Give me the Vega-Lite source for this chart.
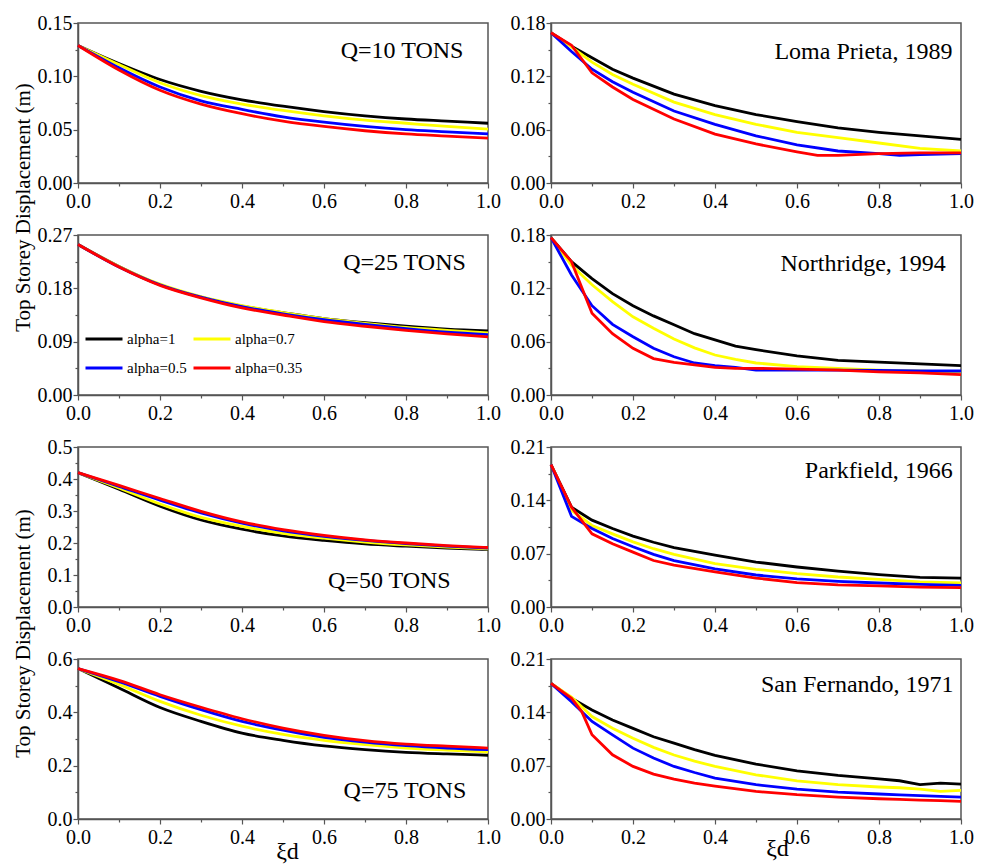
{
"$schema": "https://vega.github.io/schema/vega-lite/v6.json",
"padding": {"left": 11, "top": 12, "right": 5, "bottom": 5},
"config": {
  "font": "Liberation Serif",
  "view": {"stroke": "#555555", "strokeWidth": 1.5},
  "axis": {"labelFont": "Liberation Serif", "labelFontSize": 20, "labelColor": "#000000", "domainColor": "#555555", "domainWidth": 1.5, "tickColor": "#555555", "tickWidth": 1.2, "grid": false, "titleFont": "Liberation Serif", "titleFontWeight": "normal", "titleColor": "#000000", "labelOverlap": false, "labelFlush": false, "labelBound": false},
  "axisX": {"labelPadding": 3},
  "axisY": {"labelPadding": 1},
  "line": {"strokeWidth": 2.8}
},
"datasets": {
 "d": [
  {"p":"q10","a":"alpha=1","x":0,"y":0.129},{"p":"q10","a":"alpha=1","x":0.1,"y":0.112},{"p":"q10","a":"alpha=1","x":0.2,"y":0.097},{"p":"q10","a":"alpha=1","x":0.3,"y":0.086},{"p":"q10","a":"alpha=1","x":0.4,"y":0.078},{"p":"q10","a":"alpha=1","x":0.5,"y":0.072},{"p":"q10","a":"alpha=1","x":0.6,"y":0.067},{"p":"q10","a":"alpha=1","x":0.7,"y":0.063},{"p":"q10","a":"alpha=1","x":0.8,"y":0.060},{"p":"q10","a":"alpha=1","x":0.9,"y":0.058},{"p":"q10","a":"alpha=1","x":1,"y":0.056},
  {"p":"q10","a":"alpha=0.7","x":0,"y":0.129},{"p":"q10","a":"alpha=0.7","x":0.1,"y":0.111},{"p":"q10","a":"alpha=0.7","x":0.2,"y":0.094},{"p":"q10","a":"alpha=0.7","x":0.3,"y":0.082},{"p":"q10","a":"alpha=0.7","x":0.4,"y":0.074},{"p":"q10","a":"alpha=0.7","x":0.5,"y":0.068},{"p":"q10","a":"alpha=0.7","x":0.6,"y":0.063},{"p":"q10","a":"alpha=0.7","x":0.7,"y":0.059},{"p":"q10","a":"alpha=0.7","x":0.8,"y":0.056},{"p":"q10","a":"alpha=0.7","x":0.9,"y":0.053},{"p":"q10","a":"alpha=0.7","x":1,"y":0.0505},
  {"p":"q10","a":"alpha=0.5","x":0,"y":0.129},{"p":"q10","a":"alpha=0.5","x":0.1,"y":0.108},{"p":"q10","a":"alpha=0.5","x":0.2,"y":0.090},{"p":"q10","a":"alpha=0.5","x":0.3,"y":0.077},{"p":"q10","a":"alpha=0.5","x":0.4,"y":0.069},{"p":"q10","a":"alpha=0.5","x":0.5,"y":0.062},{"p":"q10","a":"alpha=0.5","x":0.6,"y":0.057},{"p":"q10","a":"alpha=0.5","x":0.7,"y":0.053},{"p":"q10","a":"alpha=0.5","x":0.8,"y":0.050},{"p":"q10","a":"alpha=0.5","x":0.9,"y":0.048},{"p":"q10","a":"alpha=0.5","x":1,"y":0.046},
  {"p":"q10","a":"alpha=0.35","x":0,"y":0.129},{"p":"q10","a":"alpha=0.35","x":0.1,"y":0.106},{"p":"q10","a":"alpha=0.35","x":0.2,"y":0.087},{"p":"q10","a":"alpha=0.35","x":0.3,"y":0.074},{"p":"q10","a":"alpha=0.35","x":0.4,"y":0.065},{"p":"q10","a":"alpha=0.35","x":0.5,"y":0.058},{"p":"q10","a":"alpha=0.35","x":0.6,"y":0.053},{"p":"q10","a":"alpha=0.35","x":0.7,"y":0.049},{"p":"q10","a":"alpha=0.35","x":0.8,"y":0.046},{"p":"q10","a":"alpha=0.35","x":0.9,"y":0.044},{"p":"q10","a":"alpha=0.35","x":1,"y":0.042},

  {"p":"lp","a":"alpha=1","x":0,"y":0.169},{"p":"lp","a":"alpha=1","x":0.05,"y":0.154},{"p":"lp","a":"alpha=1","x":0.1,"y":0.141},{"p":"lp","a":"alpha=1","x":0.15,"y":0.128},{"p":"lp","a":"alpha=1","x":0.2,"y":0.118},{"p":"lp","a":"alpha=1","x":0.3,"y":0.1},{"p":"lp","a":"alpha=1","x":0.4,"y":0.087},{"p":"lp","a":"alpha=1","x":0.5,"y":0.077},{"p":"lp","a":"alpha=1","x":0.6,"y":0.069},{"p":"lp","a":"alpha=1","x":0.7,"y":0.062},{"p":"lp","a":"alpha=1","x":0.8,"y":0.057},{"p":"lp","a":"alpha=1","x":0.9,"y":0.053},{"p":"lp","a":"alpha=1","x":1,"y":0.049},
  {"p":"lp","a":"alpha=0.7","x":0,"y":0.169},{"p":"lp","a":"alpha=0.7","x":0.05,"y":0.153},{"p":"lp","a":"alpha=0.7","x":0.1,"y":0.136},{"p":"lp","a":"alpha=0.7","x":0.15,"y":0.122},{"p":"lp","a":"alpha=0.7","x":0.2,"y":0.111},{"p":"lp","a":"alpha=0.7","x":0.3,"y":0.091},{"p":"lp","a":"alpha=0.7","x":0.4,"y":0.077},{"p":"lp","a":"alpha=0.7","x":0.5,"y":0.066},{"p":"lp","a":"alpha=0.7","x":0.6,"y":0.057},{"p":"lp","a":"alpha=0.7","x":0.7,"y":0.051},{"p":"lp","a":"alpha=0.7","x":0.8,"y":0.045},{"p":"lp","a":"alpha=0.7","x":0.9,"y":0.039},{"p":"lp","a":"alpha=0.7","x":1,"y":0.036},
  {"p":"lp","a":"alpha=0.5","x":0,"y":0.169},{"p":"lp","a":"alpha=0.5","x":0.05,"y":0.148},{"p":"lp","a":"alpha=0.5","x":0.1,"y":0.128},{"p":"lp","a":"alpha=0.5","x":0.15,"y":0.114},{"p":"lp","a":"alpha=0.5","x":0.2,"y":0.102},{"p":"lp","a":"alpha=0.5","x":0.3,"y":0.081},{"p":"lp","a":"alpha=0.5","x":0.4,"y":0.066},{"p":"lp","a":"alpha=0.5","x":0.5,"y":0.053},{"p":"lp","a":"alpha=0.5","x":0.6,"y":0.043},{"p":"lp","a":"alpha=0.5","x":0.7,"y":0.036},{"p":"lp","a":"alpha=0.5","x":0.8,"y":0.033},{"p":"lp","a":"alpha=0.5","x":0.85,"y":0.031},{"p":"lp","a":"alpha=0.5","x":0.9,"y":0.032},{"p":"lp","a":"alpha=0.5","x":1,"y":0.033},
  {"p":"lp","a":"alpha=0.35","x":0,"y":0.169},{"p":"lp","a":"alpha=0.35","x":0.05,"y":0.155},{"p":"lp","a":"alpha=0.35","x":0.1,"y":0.124},{"p":"lp","a":"alpha=0.35","x":0.15,"y":0.108},{"p":"lp","a":"alpha=0.35","x":0.2,"y":0.094},{"p":"lp","a":"alpha=0.35","x":0.3,"y":0.072},{"p":"lp","a":"alpha=0.35","x":0.4,"y":0.055},{"p":"lp","a":"alpha=0.35","x":0.5,"y":0.044},{"p":"lp","a":"alpha=0.35","x":0.6,"y":0.035},{"p":"lp","a":"alpha=0.35","x":0.65,"y":0.031},{"p":"lp","a":"alpha=0.35","x":0.7,"y":0.031},{"p":"lp","a":"alpha=0.35","x":0.8,"y":0.033},{"p":"lp","a":"alpha=0.35","x":0.9,"y":0.034},{"p":"lp","a":"alpha=0.35","x":1,"y":0.034},

  {"p":"q25","a":"alpha=1","x":0,"y":0.254},{"p":"q25","a":"alpha=1","x":0.1,"y":0.217},{"p":"q25","a":"alpha=1","x":0.2,"y":0.186},{"p":"q25","a":"alpha=1","x":0.3,"y":0.165},{"p":"q25","a":"alpha=1","x":0.4,"y":0.150},{"p":"q25","a":"alpha=1","x":0.5,"y":0.139},{"p":"q25","a":"alpha=1","x":0.6,"y":0.129},{"p":"q25","a":"alpha=1","x":0.7,"y":0.122},{"p":"q25","a":"alpha=1","x":0.8,"y":0.116},{"p":"q25","a":"alpha=1","x":0.9,"y":0.111},{"p":"q25","a":"alpha=1","x":1,"y":0.108},
  {"p":"q25","a":"alpha=0.7","x":0,"y":0.254},{"p":"q25","a":"alpha=0.7","x":0.1,"y":0.217},{"p":"q25","a":"alpha=0.7","x":0.2,"y":0.187},{"p":"q25","a":"alpha=0.7","x":0.3,"y":0.166},{"p":"q25","a":"alpha=0.7","x":0.4,"y":0.151},{"p":"q25","a":"alpha=0.7","x":0.5,"y":0.139},{"p":"q25","a":"alpha=0.7","x":0.6,"y":0.129},{"p":"q25","a":"alpha=0.7","x":0.7,"y":0.121},{"p":"q25","a":"alpha=0.7","x":0.8,"y":0.114},{"p":"q25","a":"alpha=0.7","x":0.9,"y":0.109},{"p":"q25","a":"alpha=0.7","x":1,"y":0.105},
  {"p":"q25","a":"alpha=0.5","x":0,"y":0.254},{"p":"q25","a":"alpha=0.5","x":0.1,"y":0.216},{"p":"q25","a":"alpha=0.5","x":0.2,"y":0.186},{"p":"q25","a":"alpha=0.5","x":0.3,"y":0.165},{"p":"q25","a":"alpha=0.5","x":0.4,"y":0.149},{"p":"q25","a":"alpha=0.5","x":0.5,"y":0.137},{"p":"q25","a":"alpha=0.5","x":0.6,"y":0.127},{"p":"q25","a":"alpha=0.5","x":0.7,"y":0.119},{"p":"q25","a":"alpha=0.5","x":0.8,"y":0.112},{"p":"q25","a":"alpha=0.5","x":0.9,"y":0.106},{"p":"q25","a":"alpha=0.5","x":1,"y":0.102},
  {"p":"q25","a":"alpha=0.35","x":0,"y":0.254},{"p":"q25","a":"alpha=0.35","x":0.1,"y":0.216},{"p":"q25","a":"alpha=0.35","x":0.2,"y":0.185},{"p":"q25","a":"alpha=0.35","x":0.3,"y":0.164},{"p":"q25","a":"alpha=0.35","x":0.4,"y":0.147},{"p":"q25","a":"alpha=0.35","x":0.5,"y":0.135},{"p":"q25","a":"alpha=0.35","x":0.6,"y":0.124},{"p":"q25","a":"alpha=0.35","x":0.7,"y":0.116},{"p":"q25","a":"alpha=0.35","x":0.8,"y":0.109},{"p":"q25","a":"alpha=0.35","x":0.9,"y":0.103},{"p":"q25","a":"alpha=0.35","x":1,"y":0.098},

  {"p":"nr","a":"alpha=1","x":0,"y":0.177},{"p":"nr","a":"alpha=1","x":0.05,"y":0.150},{"p":"nr","a":"alpha=1","x":0.1,"y":0.131},{"p":"nr","a":"alpha=1","x":0.15,"y":0.114},{"p":"nr","a":"alpha=1","x":0.2,"y":0.1005},{"p":"nr","a":"alpha=1","x":0.25,"y":0.089},{"p":"nr","a":"alpha=1","x":0.3,"y":0.079},{"p":"nr","a":"alpha=1","x":0.35,"y":0.069},{"p":"nr","a":"alpha=1","x":0.4,"y":0.062},{"p":"nr","a":"alpha=1","x":0.45,"y":0.055},{"p":"nr","a":"alpha=1","x":0.5,"y":0.051},{"p":"nr","a":"alpha=1","x":0.6,"y":0.044},{"p":"nr","a":"alpha=1","x":0.7,"y":0.039},{"p":"nr","a":"alpha=1","x":0.8,"y":0.037},{"p":"nr","a":"alpha=1","x":0.9,"y":0.035},{"p":"nr","a":"alpha=1","x":1,"y":0.033},
  {"p":"nr","a":"alpha=0.7","x":0,"y":0.177},{"p":"nr","a":"alpha=0.7","x":0.05,"y":0.146},{"p":"nr","a":"alpha=0.7","x":0.1,"y":0.124},{"p":"nr","a":"alpha=0.7","x":0.15,"y":0.105},{"p":"nr","a":"alpha=0.7","x":0.2,"y":0.088},{"p":"nr","a":"alpha=0.7","x":0.25,"y":0.075},{"p":"nr","a":"alpha=0.7","x":0.3,"y":0.063},{"p":"nr","a":"alpha=0.7","x":0.35,"y":0.053},{"p":"nr","a":"alpha=0.7","x":0.4,"y":0.045},{"p":"nr","a":"alpha=0.7","x":0.45,"y":0.040},{"p":"nr","a":"alpha=0.7","x":0.5,"y":0.036},{"p":"nr","a":"alpha=0.7","x":0.6,"y":0.032},{"p":"nr","a":"alpha=0.7","x":0.7,"y":0.030},{"p":"nr","a":"alpha=0.7","x":0.8,"y":0.028},{"p":"nr","a":"alpha=0.7","x":0.9,"y":0.027},{"p":"nr","a":"alpha=0.7","x":1,"y":0.0255},
  {"p":"nr","a":"alpha=0.5","x":0,"y":0.177},{"p":"nr","a":"alpha=0.5","x":0.05,"y":0.135},{"p":"nr","a":"alpha=0.5","x":0.1,"y":0.1005},{"p":"nr","a":"alpha=0.5","x":0.15,"y":0.0795},{"p":"nr","a":"alpha=0.5","x":0.2,"y":0.0656},{"p":"nr","a":"alpha=0.5","x":0.25,"y":0.0525},{"p":"nr","a":"alpha=0.5","x":0.3,"y":0.043},{"p":"nr","a":"alpha=0.5","x":0.35,"y":0.036},{"p":"nr","a":"alpha=0.5","x":0.4,"y":0.033},{"p":"nr","a":"alpha=0.5","x":0.45,"y":0.031},{"p":"nr","a":"alpha=0.5","x":0.5,"y":0.028},{"p":"nr","a":"alpha=0.5","x":0.6,"y":0.028},{"p":"nr","a":"alpha=0.5","x":0.7,"y":0.028},{"p":"nr","a":"alpha=0.5","x":0.8,"y":0.0277},{"p":"nr","a":"alpha=0.5","x":0.9,"y":0.027},{"p":"nr","a":"alpha=0.5","x":1,"y":0.027},
  {"p":"nr","a":"alpha=0.35","x":0,"y":0.177},{"p":"nr","a":"alpha=0.35","x":0.05,"y":0.150},{"p":"nr","a":"alpha=0.35","x":0.1,"y":0.092},{"p":"nr","a":"alpha=0.35","x":0.15,"y":0.069},{"p":"nr","a":"alpha=0.35","x":0.2,"y":0.0525},{"p":"nr","a":"alpha=0.35","x":0.25,"y":0.041},{"p":"nr","a":"alpha=0.35","x":0.3,"y":0.0367},{"p":"nr","a":"alpha=0.35","x":0.35,"y":0.034},{"p":"nr","a":"alpha=0.35","x":0.4,"y":0.031},{"p":"nr","a":"alpha=0.35","x":0.45,"y":0.030},{"p":"nr","a":"alpha=0.35","x":0.5,"y":0.030},{"p":"nr","a":"alpha=0.35","x":0.6,"y":0.029},{"p":"nr","a":"alpha=0.35","x":0.7,"y":0.028},{"p":"nr","a":"alpha=0.35","x":0.8,"y":0.026},{"p":"nr","a":"alpha=0.35","x":0.9,"y":0.025},{"p":"nr","a":"alpha=0.35","x":1,"y":0.023},

  {"p":"q50","a":"alpha=1","x":0,"y":0.42},{"p":"q50","a":"alpha=1","x":0.1,"y":0.368},{"p":"q50","a":"alpha=1","x":0.2,"y":0.315},{"p":"q50","a":"alpha=1","x":0.3,"y":0.272},{"p":"q50","a":"alpha=1","x":0.4,"y":0.243},{"p":"q50","a":"alpha=1","x":0.5,"y":0.222},{"p":"q50","a":"alpha=1","x":0.6,"y":0.208},{"p":"q50","a":"alpha=1","x":0.7,"y":0.197},{"p":"q50","a":"alpha=1","x":0.8,"y":0.19},{"p":"q50","a":"alpha=1","x":0.9,"y":0.184},{"p":"q50","a":"alpha=1","x":1,"y":0.18},
  {"p":"q50","a":"alpha=0.7","x":0,"y":0.42},{"p":"q50","a":"alpha=0.7","x":0.1,"y":0.372},{"p":"q50","a":"alpha=0.7","x":0.2,"y":0.322},{"p":"q50","a":"alpha=0.7","x":0.3,"y":0.280},{"p":"q50","a":"alpha=0.7","x":0.4,"y":0.252},{"p":"q50","a":"alpha=0.7","x":0.5,"y":0.230},{"p":"q50","a":"alpha=0.7","x":0.6,"y":0.215},{"p":"q50","a":"alpha=0.7","x":0.7,"y":0.203},{"p":"q50","a":"alpha=0.7","x":0.8,"y":0.194},{"p":"q50","a":"alpha=0.7","x":0.9,"y":0.187},{"p":"q50","a":"alpha=0.7","x":1,"y":0.182},
  {"p":"q50","a":"alpha=0.5","x":0,"y":0.42},{"p":"q50","a":"alpha=0.5","x":0.1,"y":0.377},{"p":"q50","a":"alpha=0.5","x":0.2,"y":0.334},{"p":"q50","a":"alpha=0.5","x":0.3,"y":0.294},{"p":"q50","a":"alpha=0.5","x":0.4,"y":0.262},{"p":"q50","a":"alpha=0.5","x":0.5,"y":0.238},{"p":"q50","a":"alpha=0.5","x":0.6,"y":0.221},{"p":"q50","a":"alpha=0.5","x":0.7,"y":0.208},{"p":"q50","a":"alpha=0.5","x":0.8,"y":0.198},{"p":"q50","a":"alpha=0.5","x":0.9,"y":0.190},{"p":"q50","a":"alpha=0.5","x":1,"y":0.184},
  {"p":"q50","a":"alpha=0.35","x":0,"y":0.42},{"p":"q50","a":"alpha=0.35","x":0.1,"y":0.38},{"p":"q50","a":"alpha=0.35","x":0.2,"y":0.339},{"p":"q50","a":"alpha=0.35","x":0.3,"y":0.299},{"p":"q50","a":"alpha=0.35","x":0.4,"y":0.266},{"p":"q50","a":"alpha=0.35","x":0.5,"y":0.242},{"p":"q50","a":"alpha=0.35","x":0.6,"y":0.224},{"p":"q50","a":"alpha=0.35","x":0.7,"y":0.210},{"p":"q50","a":"alpha=0.35","x":0.8,"y":0.200},{"p":"q50","a":"alpha=0.35","x":0.9,"y":0.192},{"p":"q50","a":"alpha=0.35","x":1,"y":0.186},

  {"p":"pf","a":"alpha=1","x":0,"y":0.187},{"p":"pf","a":"alpha=1","x":0.05,"y":0.131},{"p":"pf","a":"alpha=1","x":0.1,"y":0.114},{"p":"pf","a":"alpha=1","x":0.15,"y":0.103},{"p":"pf","a":"alpha=1","x":0.2,"y":0.093},{"p":"pf","a":"alpha=1","x":0.25,"y":0.085},{"p":"pf","a":"alpha=1","x":0.3,"y":0.078},{"p":"pf","a":"alpha=1","x":0.4,"y":0.068},{"p":"pf","a":"alpha=1","x":0.5,"y":0.059},{"p":"pf","a":"alpha=1","x":0.6,"y":0.0525},{"p":"pf","a":"alpha=1","x":0.7,"y":0.047},{"p":"pf","a":"alpha=1","x":0.8,"y":0.0425},{"p":"pf","a":"alpha=1","x":0.9,"y":0.039},{"p":"pf","a":"alpha=1","x":1,"y":0.038},
  {"p":"pf","a":"alpha=0.7","x":0,"y":0.187},{"p":"pf","a":"alpha=0.7","x":0.05,"y":0.127},{"p":"pf","a":"alpha=0.7","x":0.1,"y":0.107},{"p":"pf","a":"alpha=0.7","x":0.15,"y":0.096},{"p":"pf","a":"alpha=0.7","x":0.2,"y":0.0855},{"p":"pf","a":"alpha=0.7","x":0.25,"y":0.0765},{"p":"pf","a":"alpha=0.7","x":0.3,"y":0.069},{"p":"pf","a":"alpha=0.7","x":0.4,"y":0.057},{"p":"pf","a":"alpha=0.7","x":0.5,"y":0.0495},{"p":"pf","a":"alpha=0.7","x":0.6,"y":0.0437},{"p":"pf","a":"alpha=0.7","x":0.7,"y":0.0394},{"p":"pf","a":"alpha=0.7","x":0.8,"y":0.0363},{"p":"pf","a":"alpha=0.7","x":0.9,"y":0.033},{"p":"pf","a":"alpha=0.7","x":1,"y":0.0315},
  {"p":"pf","a":"alpha=0.5","x":0,"y":0.187},{"p":"pf","a":"alpha=0.5","x":0.05,"y":0.119},{"p":"pf","a":"alpha=0.5","x":0.1,"y":0.103},{"p":"pf","a":"alpha=0.5","x":0.15,"y":0.090},{"p":"pf","a":"alpha=0.5","x":0.2,"y":0.079},{"p":"pf","a":"alpha=0.5","x":0.25,"y":0.069},{"p":"pf","a":"alpha=0.5","x":0.3,"y":0.061},{"p":"pf","a":"alpha=0.5","x":0.4,"y":0.050},{"p":"pf","a":"alpha=0.5","x":0.5,"y":0.042},{"p":"pf","a":"alpha=0.5","x":0.6,"y":0.037},{"p":"pf","a":"alpha=0.5","x":0.7,"y":0.0337},{"p":"pf","a":"alpha=0.5","x":0.8,"y":0.0315},{"p":"pf","a":"alpha=0.5","x":0.9,"y":0.0297},{"p":"pf","a":"alpha=0.5","x":1,"y":0.0284},
  {"p":"pf","a":"alpha=0.35","x":0,"y":0.187},{"p":"pf","a":"alpha=0.35","x":0.05,"y":0.131},{"p":"pf","a":"alpha=0.35","x":0.1,"y":0.096},{"p":"pf","a":"alpha=0.35","x":0.15,"y":0.083},{"p":"pf","a":"alpha=0.35","x":0.2,"y":0.072},{"p":"pf","a":"alpha=0.35","x":0.25,"y":0.061},{"p":"pf","a":"alpha=0.35","x":0.3,"y":0.055},{"p":"pf","a":"alpha=0.35","x":0.4,"y":0.046},{"p":"pf","a":"alpha=0.35","x":0.5,"y":0.038},{"p":"pf","a":"alpha=0.35","x":0.6,"y":0.032},{"p":"pf","a":"alpha=0.35","x":0.7,"y":0.029},{"p":"pf","a":"alpha=0.35","x":0.8,"y":0.0276},{"p":"pf","a":"alpha=0.35","x":0.9,"y":0.026},{"p":"pf","a":"alpha=0.35","x":1,"y":0.0254},

  {"p":"q75","a":"alpha=1","x":0,"y":0.564},{"p":"q75","a":"alpha=1","x":0.1,"y":0.491},{"p":"q75","a":"alpha=1","x":0.2,"y":0.418},{"p":"q75","a":"alpha=1","x":0.3,"y":0.366},{"p":"q75","a":"alpha=1","x":0.4,"y":0.322},{"p":"q75","a":"alpha=1","x":0.5,"y":0.295},{"p":"q75","a":"alpha=1","x":0.6,"y":0.274},{"p":"q75","a":"alpha=1","x":0.7,"y":0.260},{"p":"q75","a":"alpha=1","x":0.8,"y":0.250},{"p":"q75","a":"alpha=1","x":0.9,"y":0.244},{"p":"q75","a":"alpha=1","x":1,"y":0.239},
  {"p":"q75","a":"alpha=0.7","x":0,"y":0.564},{"p":"q75","a":"alpha=0.7","x":0.1,"y":0.505},{"p":"q75","a":"alpha=0.7","x":0.2,"y":0.441},{"p":"q75","a":"alpha=0.7","x":0.3,"y":0.389},{"p":"q75","a":"alpha=0.7","x":0.4,"y":0.348},{"p":"q75","a":"alpha=0.7","x":0.5,"y":0.317},{"p":"q75","a":"alpha=0.7","x":0.6,"y":0.295},{"p":"q75","a":"alpha=0.7","x":0.7,"y":0.279},{"p":"q75","a":"alpha=0.7","x":0.8,"y":0.266},{"p":"q75","a":"alpha=0.7","x":0.9,"y":0.258},{"p":"q75","a":"alpha=0.7","x":1,"y":0.251},
  {"p":"q75","a":"alpha=0.5","x":0,"y":0.564},{"p":"q75","a":"alpha=0.5","x":0.1,"y":0.515},{"p":"q75","a":"alpha=0.5","x":0.2,"y":0.460},{"p":"q75","a":"alpha=0.5","x":0.3,"y":0.410},{"p":"q75","a":"alpha=0.5","x":0.4,"y":0.366},{"p":"q75","a":"alpha=0.5","x":0.5,"y":0.333},{"p":"q75","a":"alpha=0.5","x":0.6,"y":0.306},{"p":"q75","a":"alpha=0.5","x":0.7,"y":0.288},{"p":"q75","a":"alpha=0.5","x":0.8,"y":0.275},{"p":"q75","a":"alpha=0.5","x":0.9,"y":0.266},{"p":"q75","a":"alpha=0.5","x":1,"y":0.260},
  {"p":"q75","a":"alpha=0.35","x":0,"y":0.564},{"p":"q75","a":"alpha=0.35","x":0.1,"y":0.520},{"p":"q75","a":"alpha=0.35","x":0.2,"y":0.466},{"p":"q75","a":"alpha=0.35","x":0.3,"y":0.419},{"p":"q75","a":"alpha=0.35","x":0.4,"y":0.376},{"p":"q75","a":"alpha=0.35","x":0.5,"y":0.341},{"p":"q75","a":"alpha=0.35","x":0.6,"y":0.314},{"p":"q75","a":"alpha=0.35","x":0.7,"y":0.294},{"p":"q75","a":"alpha=0.35","x":0.8,"y":0.281},{"p":"q75","a":"alpha=0.35","x":0.9,"y":0.273},{"p":"q75","a":"alpha=0.35","x":1,"y":0.266},

  {"p":"sf","a":"alpha=1","x":0,"y":0.178},{"p":"sf","a":"alpha=1","x":0.05,"y":0.1585},{"p":"sf","a":"alpha=1","x":0.1,"y":0.143},{"p":"sf","a":"alpha=1","x":0.15,"y":0.130},{"p":"sf","a":"alpha=1","x":0.2,"y":0.119},{"p":"sf","a":"alpha=1","x":0.25,"y":0.108},{"p":"sf","a":"alpha=1","x":0.3,"y":0.0996},{"p":"sf","a":"alpha=1","x":0.35,"y":0.091},{"p":"sf","a":"alpha=1","x":0.4,"y":0.0834},{"p":"sf","a":"alpha=1","x":0.5,"y":0.072},{"p":"sf","a":"alpha=1","x":0.6,"y":0.0633},{"p":"sf","a":"alpha=1","x":0.7,"y":0.0572},{"p":"sf","a":"alpha=1","x":0.8,"y":0.0528},{"p":"sf","a":"alpha=1","x":0.85,"y":0.0502},{"p":"sf","a":"alpha=1","x":0.9,"y":0.045},{"p":"sf","a":"alpha=1","x":0.95,"y":0.0472},{"p":"sf","a":"alpha=1","x":1,"y":0.0459},
  {"p":"sf","a":"alpha=0.7","x":0,"y":0.178},{"p":"sf","a":"alpha=0.7","x":0.05,"y":0.16},{"p":"sf","a":"alpha=0.7","x":0.1,"y":0.1345},{"p":"sf","a":"alpha=0.7","x":0.15,"y":0.119},{"p":"sf","a":"alpha=0.7","x":0.2,"y":0.106},{"p":"sf","a":"alpha=0.7","x":0.25,"y":0.094},{"p":"sf","a":"alpha=0.7","x":0.3,"y":0.084},{"p":"sf","a":"alpha=0.7","x":0.35,"y":0.076},{"p":"sf","a":"alpha=0.7","x":0.4,"y":0.069},{"p":"sf","a":"alpha=0.7","x":0.5,"y":0.058},{"p":"sf","a":"alpha=0.7","x":0.6,"y":0.050},{"p":"sf","a":"alpha=0.7","x":0.7,"y":0.045},{"p":"sf","a":"alpha=0.7","x":0.8,"y":0.042},{"p":"sf","a":"alpha=0.7","x":0.85,"y":0.041},{"p":"sf","a":"alpha=0.7","x":0.9,"y":0.0393},{"p":"sf","a":"alpha=0.7","x":0.95,"y":0.0362},{"p":"sf","a":"alpha=0.7","x":1,"y":0.0376},
  {"p":"sf","a":"alpha=0.5","x":0,"y":0.178},{"p":"sf","a":"alpha=0.5","x":0.05,"y":0.154},{"p":"sf","a":"alpha=0.5","x":0.1,"y":0.128},{"p":"sf","a":"alpha=0.5","x":0.15,"y":0.1105},{"p":"sf","a":"alpha=0.5","x":0.2,"y":0.093},{"p":"sf","a":"alpha=0.5","x":0.25,"y":0.080},{"p":"sf","a":"alpha=0.5","x":0.3,"y":0.069},{"p":"sf","a":"alpha=0.5","x":0.35,"y":0.061},{"p":"sf","a":"alpha=0.5","x":0.4,"y":0.0537},{"p":"sf","a":"alpha=0.5","x":0.5,"y":0.045},{"p":"sf","a":"alpha=0.5","x":0.6,"y":0.0393},{"p":"sf","a":"alpha=0.5","x":0.7,"y":0.0354},{"p":"sf","a":"alpha=0.5","x":0.8,"y":0.0328},{"p":"sf","a":"alpha=0.5","x":0.85,"y":0.0317},{"p":"sf","a":"alpha=0.5","x":0.9,"y":0.0306},{"p":"sf","a":"alpha=0.5","x":0.95,"y":0.0297},{"p":"sf","a":"alpha=0.5","x":1,"y":0.0288},
  {"p":"sf","a":"alpha=0.35","x":0,"y":0.178},{"p":"sf","a":"alpha=0.35","x":0.05,"y":0.1585},{"p":"sf","a":"alpha=0.35","x":0.075,"y":0.141},{"p":"sf","a":"alpha=0.35","x":0.1,"y":0.1105},{"p":"sf","a":"alpha=0.35","x":0.15,"y":0.0843},{"p":"sf","a":"alpha=0.35","x":0.2,"y":0.069},{"p":"sf","a":"alpha=0.35","x":0.25,"y":0.059},{"p":"sf","a":"alpha=0.35","x":0.3,"y":0.0524},{"p":"sf","a":"alpha=0.35","x":0.35,"y":0.047},{"p":"sf","a":"alpha=0.35","x":0.4,"y":0.043},{"p":"sf","a":"alpha=0.35","x":0.5,"y":0.0362},{"p":"sf","a":"alpha=0.35","x":0.6,"y":0.0319},{"p":"sf","a":"alpha=0.35","x":0.7,"y":0.0288},{"p":"sf","a":"alpha=0.35","x":0.8,"y":0.0266},{"p":"sf","a":"alpha=0.35","x":0.85,"y":0.0257},{"p":"sf","a":"alpha=0.35","x":0.9,"y":0.0249},{"p":"sf","a":"alpha=0.35","x":0.95,"y":0.024},{"p":"sf","a":"alpha=0.35","x":1,"y":0.0231}
 ]
},
"columns": 2,
"spacing": {"row": 52, "column": 63},
"bounds": "flush",
"resolve": {"scale": {"color": "independent"}, "legend": {"color": "independent"}},
"concat": [
 {"width": 410, "height": 160, "layer": [
  {"data": {"name": "d"}, "transform": [{"filter": "datum.p=='q10'"}],
   "mark": {"type": "line", "interpolate": "monotone"},
   "encoding": {
    "x": {"field": "x", "type": "quantitative", "scale": {"domain": [0, 1], "nice": false}, "axis": {"tickCount": 50, "labelOverlap": false, "values": [0,0.1,0.2,0.3,0.4,0.5,0.6,0.7,0.8,0.9,1], "labelExpr": "round(datum.value*10)%2==0 ? format(datum.value,'.1f') : ''", "tickSize": {"condition": {"test": "round(datum.value*10)%2==0", "value": 5}, "value": 3}, "title": null}},
    "y": {"field": "y", "type": "quantitative", "scale": {"domain": [0, 0.15], "nice": false}, "axis": {"tickCount": 50, "labelOverlap": false, "values": [0,0.025,0.05,0.075,0.1,0.125,0.15], "labelExpr": "abs(datum.value/0.05-round(datum.value/0.05))<0.01 ? format(datum.value,'.2f') : ''", "labelFontSize": {"condition": {"test": "abs(datum.value/0.05-round(datum.value/0.05))<0.01", "value": 20}, "value": 1}, "tickSize": {"condition": {"test": "abs(datum.value/0.05-round(datum.value/0.05))<0.01", "value": 5}, "value": 3}, "title": "Top Storey Displacement (m)", "titleFontSize": 21, "titleX": -45, "titleY": 184, "titleBaseline": "bottom", "titleAngle": -90}},
    "color": {"field": "a", "type": "nominal", "scale": {"domain": ["alpha=1","alpha=0.7","alpha=0.5","alpha=0.35"], "range": ["#000000","#ffff00","#0000ff","#ff0000"]}, "legend": null}
   }},
  {"data": {"values": [{}]}, "mark": {"type": "text", "text": "Q=10 TONS", "align": "right", "baseline": "middle", "fontSize": 24, "font": "Liberation Serif", "color": "#000000"},
   "encoding": {"x": {"datum": 0.94, "type": "quantitative"}, "y": {"datum": 0.124, "type": "quantitative"}}}
 ]},
 {"width": 410, "height": 160, "layer": [
  {"data": {"name": "d"}, "transform": [{"filter": "datum.p=='lp'"}],
   "mark": {"type": "line"},
   "encoding": {
    "x": {"field": "x", "type": "quantitative", "scale": {"domain": [0, 1], "nice": false}, "axis": {"tickCount": 50, "labelOverlap": false, "values": [0,0.1,0.2,0.3,0.4,0.5,0.6,0.7,0.8,0.9,1], "labelExpr": "round(datum.value*10)%2==0 ? format(datum.value,'.1f') : ''", "tickSize": {"condition": {"test": "round(datum.value*10)%2==0", "value": 5}, "value": 3}, "title": null}},
    "y": {"field": "y", "type": "quantitative", "scale": {"domain": [0, 0.18], "nice": false}, "axis": {"tickCount": 50, "labelOverlap": false, "values": [0,0.03,0.06,0.09,0.12,0.15,0.18], "labelExpr": "abs(datum.value/0.06-round(datum.value/0.06))<0.01 ? format(datum.value,'.2f') : ''", "labelFontSize": {"condition": {"test": "abs(datum.value/0.06-round(datum.value/0.06))<0.01", "value": 20}, "value": 1}, "tickSize": {"condition": {"test": "abs(datum.value/0.06-round(datum.value/0.06))<0.01", "value": 5}, "value": 3}, "title": null}},
    "color": {"field": "a", "type": "nominal", "scale": {"domain": ["alpha=1","alpha=0.7","alpha=0.5","alpha=0.35"], "range": ["#000000","#ffff00","#0000ff","#ff0000"]}, "legend": null}
   }},
  {"data": {"values": [{}]}, "mark": {"type": "text", "text": "Loma Prieta, 1989", "align": "right", "baseline": "middle", "fontSize": 24, "font": "Liberation Serif", "color": "#000000"},
   "encoding": {"x": {"datum": 0.979, "type": "quantitative"}, "y": {"datum": 0.147, "type": "quantitative"}}}
 ]},
 {"width": 410, "height": 160, "layer": [
  {"data": {"name": "d"}, "transform": [{"filter": "datum.p=='q25'"}],
   "mark": {"type": "line", "interpolate": "monotone"},
   "encoding": {
    "x": {"field": "x", "type": "quantitative", "scale": {"domain": [0, 1], "nice": false}, "axis": {"tickCount": 50, "labelOverlap": false, "values": [0,0.1,0.2,0.3,0.4,0.5,0.6,0.7,0.8,0.9,1], "labelExpr": "round(datum.value*10)%2==0 ? format(datum.value,'.1f') : ''", "tickSize": {"condition": {"test": "round(datum.value*10)%2==0", "value": 5}, "value": 3}, "title": null}},
    "y": {"field": "y", "type": "quantitative", "scale": {"domain": [0, 0.27], "nice": false}, "axis": {"tickCount": 50, "labelOverlap": false, "values": [0,0.045,0.09,0.135,0.18,0.225,0.27], "labelExpr": "abs(datum.value/0.09-round(datum.value/0.09))<0.01 ? format(datum.value,'.2f') : ''", "labelFontSize": {"condition": {"test": "abs(datum.value/0.09-round(datum.value/0.09))<0.01", "value": 20}, "value": 1}, "tickSize": {"condition": {"test": "abs(datum.value/0.09-round(datum.value/0.09))<0.01", "value": 5}, "value": 3}, "title": null}},
    "color": {"field": "a", "type": "nominal", "scale": {"domain": ["alpha=1","alpha=0.7","alpha=0.5","alpha=0.35"], "range": ["#000000","#ffff00","#0000ff","#ff0000"]},
      "legend": {"orient": "none", "legendX": 6, "legendY": 84, "columns": 2, "direction": "horizontal", "title": null, "symbolType": "stroke", "symbolSize": 1369, "symbolStrokeWidth": 3, "labelFont": "Liberation Serif", "labelFontSize": 15, "labelColor": "#000000", "labelOffset": 3, "rowPadding": 1, "columnPadding": 0, "padding": 0}}
   }},
  {"data": {"values": [{}]}, "mark": {"type": "text", "text": "Q=25 TONS", "align": "right", "baseline": "middle", "fontSize": 24, "font": "Liberation Serif", "color": "#000000"},
   "encoding": {"x": {"datum": 0.946, "type": "quantitative"}, "y": {"datum": 0.222, "type": "quantitative"}}}
 ]},
 {"width": 410, "height": 160, "layer": [
  {"data": {"name": "d"}, "transform": [{"filter": "datum.p=='nr'"}],
   "mark": {"type": "line"},
   "encoding": {
    "x": {"field": "x", "type": "quantitative", "scale": {"domain": [0, 1], "nice": false}, "axis": {"tickCount": 50, "labelOverlap": false, "values": [0,0.1,0.2,0.3,0.4,0.5,0.6,0.7,0.8,0.9,1], "labelExpr": "round(datum.value*10)%2==0 ? format(datum.value,'.1f') : ''", "tickSize": {"condition": {"test": "round(datum.value*10)%2==0", "value": 5}, "value": 3}, "title": null}},
    "y": {"field": "y", "type": "quantitative", "scale": {"domain": [0, 0.18], "nice": false}, "axis": {"tickCount": 50, "labelOverlap": false, "values": [0,0.03,0.06,0.09,0.12,0.15,0.18], "labelExpr": "abs(datum.value/0.06-round(datum.value/0.06))<0.01 ? format(datum.value,'.2f') : ''", "labelFontSize": {"condition": {"test": "abs(datum.value/0.06-round(datum.value/0.06))<0.01", "value": 20}, "value": 1}, "tickSize": {"condition": {"test": "abs(datum.value/0.06-round(datum.value/0.06))<0.01", "value": 5}, "value": 3}, "title": null}},
    "color": {"field": "a", "type": "nominal", "scale": {"domain": ["alpha=1","alpha=0.7","alpha=0.5","alpha=0.35"], "range": ["#000000","#ffff00","#0000ff","#ff0000"]}, "legend": null}
   }},
  {"data": {"values": [{}]}, "mark": {"type": "text", "text": "Northridge, 1994", "align": "right", "baseline": "middle", "fontSize": 24, "font": "Liberation Serif", "color": "#000000"},
   "encoding": {"x": {"datum": 0.963, "type": "quantitative"}, "y": {"datum": 0.147, "type": "quantitative"}}}
 ]},
 {"width": 410, "height": 160, "layer": [
  {"data": {"name": "d"}, "transform": [{"filter": "datum.p=='q50'"}],
   "mark": {"type": "line", "interpolate": "monotone"},
   "encoding": {
    "x": {"field": "x", "type": "quantitative", "scale": {"domain": [0, 1], "nice": false}, "axis": {"tickCount": 50, "labelOverlap": false, "values": [0,0.1,0.2,0.3,0.4,0.5,0.6,0.7,0.8,0.9,1], "labelExpr": "round(datum.value*10)%2==0 ? format(datum.value,'.1f') : ''", "tickSize": {"condition": {"test": "round(datum.value*10)%2==0", "value": 5}, "value": 3}, "title": null}},
    "y": {"field": "y", "type": "quantitative", "scale": {"domain": [0, 0.5], "nice": false}, "axis": {"tickCount": 50, "labelOverlap": false, "values": [0,0.05,0.1,0.15,0.2,0.25,0.3,0.35,0.4,0.45,0.5], "labelExpr": "abs(datum.value/0.1-round(datum.value/0.1))<0.01 ? format(datum.value,'.1f') : ''", "labelFontSize": {"condition": {"test": "abs(datum.value/0.1-round(datum.value/0.1))<0.01", "value": 20}, "value": 1}, "tickSize": {"condition": {"test": "abs(datum.value/0.1-round(datum.value/0.1))<0.01", "value": 5}, "value": 3}, "title": "Top Storey Displacement (m)", "titleFontSize": 21, "titleX": -45, "titleY": 186, "titleBaseline": "bottom", "titleAngle": -90}},
    "color": {"field": "a", "type": "nominal", "scale": {"domain": ["alpha=1","alpha=0.7","alpha=0.5","alpha=0.35"], "range": ["#000000","#ffff00","#0000ff","#ff0000"]}, "legend": null}
   }},
  {"data": {"values": [{}]}, "mark": {"type": "text", "text": "Q=50 TONS", "align": "right", "baseline": "middle", "fontSize": 24, "font": "Liberation Serif", "color": "#000000"},
   "encoding": {"x": {"datum": 0.909, "type": "quantitative"}, "y": {"datum": 0.08, "type": "quantitative"}}}
 ]},
 {"width": 410, "height": 160, "layer": [
  {"data": {"name": "d"}, "transform": [{"filter": "datum.p=='pf'"}],
   "mark": {"type": "line"},
   "encoding": {
    "x": {"field": "x", "type": "quantitative", "scale": {"domain": [0, 1], "nice": false}, "axis": {"tickCount": 50, "labelOverlap": false, "values": [0,0.1,0.2,0.3,0.4,0.5,0.6,0.7,0.8,0.9,1], "labelExpr": "round(datum.value*10)%2==0 ? format(datum.value,'.1f') : ''", "tickSize": {"condition": {"test": "round(datum.value*10)%2==0", "value": 5}, "value": 3}, "title": null}},
    "y": {"field": "y", "type": "quantitative", "scale": {"domain": [0, 0.21], "nice": false}, "axis": {"tickCount": 50, "labelOverlap": false, "values": [0,0.035,0.07,0.105,0.14,0.175,0.21], "labelExpr": "abs(datum.value/0.07-round(datum.value/0.07))<0.01 ? format(datum.value,'.2f') : ''", "labelFontSize": {"condition": {"test": "abs(datum.value/0.07-round(datum.value/0.07))<0.01", "value": 20}, "value": 1}, "tickSize": {"condition": {"test": "abs(datum.value/0.07-round(datum.value/0.07))<0.01", "value": 5}, "value": 3}, "title": null}},
    "color": {"field": "a", "type": "nominal", "scale": {"domain": ["alpha=1","alpha=0.7","alpha=0.5","alpha=0.35"], "range": ["#000000","#ffff00","#0000ff","#ff0000"]}, "legend": null}
   }},
  {"data": {"values": [{}]}, "mark": {"type": "text", "text": "Parkfield, 1966", "align": "right", "baseline": "middle", "fontSize": 24, "font": "Liberation Serif", "color": "#000000"},
   "encoding": {"x": {"datum": 0.98, "type": "quantitative"}, "y": {"datum": 0.1785, "type": "quantitative"}}}
 ]},
 {"width": 410, "height": 160, "layer": [
  {"data": {"name": "d"}, "transform": [{"filter": "datum.p=='q75'"}],
   "mark": {"type": "line", "interpolate": "monotone"},
   "encoding": {
    "x": {"field": "x", "type": "quantitative", "scale": {"domain": [0, 1], "nice": false}, "axis": {"tickCount": 50, "labelOverlap": false, "values": [0,0.1,0.2,0.3,0.4,0.5,0.6,0.7,0.8,0.9,1], "labelExpr": "round(datum.value*10)%2==0 ? format(datum.value,'.1f') : ''", "tickSize": {"condition": {"test": "round(datum.value*10)%2==0", "value": 5}, "value": 3}, "title": "ξd", "titleFontSize": 24, "titleX": 209, "titleY": 32, "titleBaseline": "middle"}},
    "y": {"field": "y", "type": "quantitative", "scale": {"domain": [0, 0.6], "nice": false}, "axis": {"tickCount": 50, "labelOverlap": false, "values": [0,0.1,0.2,0.3,0.4,0.5,0.6], "labelExpr": "abs(datum.value/0.2-round(datum.value/0.2))<0.01 ? format(datum.value,'.1f') : ''", "labelFontSize": {"condition": {"test": "abs(datum.value/0.2-round(datum.value/0.2))<0.01", "value": 20}, "value": 1}, "tickSize": {"condition": {"test": "abs(datum.value/0.2-round(datum.value/0.2))<0.01", "value": 5}, "value": 3}, "title": null}},
    "color": {"field": "a", "type": "nominal", "scale": {"domain": ["alpha=1","alpha=0.7","alpha=0.5","alpha=0.35"], "range": ["#000000","#ffff00","#0000ff","#ff0000"]}, "legend": null}
   }},
  {"data": {"values": [{}]}, "mark": {"type": "text", "text": "Q=75 TONS", "align": "right", "baseline": "middle", "fontSize": 24, "font": "Liberation Serif", "color": "#000000"},
   "encoding": {"x": {"datum": 0.947, "type": "quantitative"}, "y": {"datum": 0.104, "type": "quantitative"}}}
 ]},
 {"width": 410, "height": 160, "layer": [
  {"data": {"name": "d"}, "transform": [{"filter": "datum.p=='sf'"}],
   "mark": {"type": "line"},
   "encoding": {
    "x": {"field": "x", "type": "quantitative", "scale": {"domain": [0, 1], "nice": false}, "axis": {"tickCount": 50, "labelOverlap": false, "values": [0,0.1,0.2,0.3,0.4,0.5,0.6,0.7,0.8,0.9,1], "labelExpr": "round(datum.value*10)%2==0 ? format(datum.value,'.1f') : ''", "tickSize": {"condition": {"test": "round(datum.value*10)%2==0", "value": 5}, "value": 3}, "title": "ξd", "titleFontSize": 24, "titleX": 226, "titleY": 29, "titleBaseline": "middle"}},
    "y": {"field": "y", "type": "quantitative", "scale": {"domain": [0, 0.21], "nice": false}, "axis": {"tickCount": 50, "labelOverlap": false, "values": [0,0.035,0.07,0.105,0.14,0.175,0.21], "labelExpr": "abs(datum.value/0.07-round(datum.value/0.07))<0.01 ? format(datum.value,'.2f') : ''", "labelFontSize": {"condition": {"test": "abs(datum.value/0.07-round(datum.value/0.07))<0.01", "value": 20}, "value": 1}, "tickSize": {"condition": {"test": "abs(datum.value/0.07-round(datum.value/0.07))<0.01", "value": 5}, "value": 3}, "title": null}},
    "color": {"field": "a", "type": "nominal", "scale": {"domain": ["alpha=1","alpha=0.7","alpha=0.5","alpha=0.35"], "range": ["#000000","#ffff00","#0000ff","#ff0000"]}, "legend": null}
   }},
  {"data": {"values": [{}]}, "mark": {"type": "text", "text": "San Fernando, 1971", "align": "right", "baseline": "middle", "fontSize": 24, "font": "Liberation Serif", "color": "#000000"},
   "encoding": {"x": {"datum": 0.982, "type": "quantitative"}, "y": {"datum": 0.176, "type": "quantitative"}}}
 ]}
]
}
